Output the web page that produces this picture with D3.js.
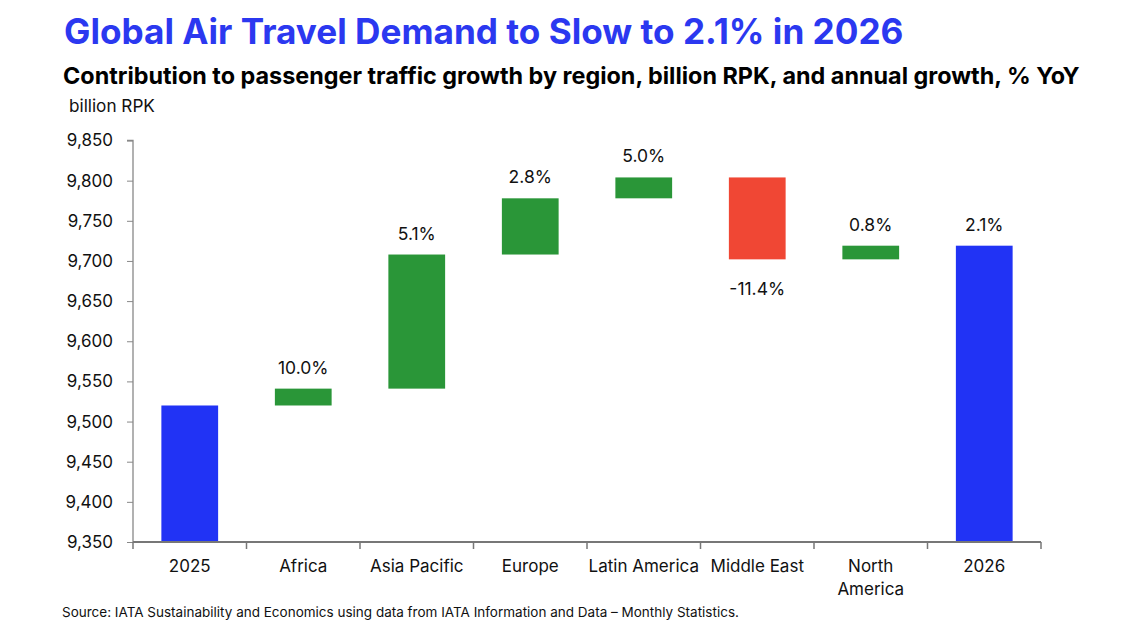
<!DOCTYPE html>
<html><head><meta charset="utf-8">
<script src="https://cdn.jsdelivr.net/npm/d3@7/dist/d3.min.js"></script>
<style>body{margin:0;background:#fff;} text{font-family:Inter, "Noto Sans", sans-serif;}</style>
</head><body>
<svg id="c" width="1135" height="643"></svg>
<script>
const categories = ["2025","Africa","Asia Pacific","Europe","Latin America","Middle East","North America","2026"];
const kinds = ["total","delta","delta","delta","delta","delta","delta","total"];
const values = [9520, 21, 167, 70, 26, -102, 17, 9719];
const labels = ["", "10.0%", "5.1%", "2.8%", "5.0%", "-11.4%", "0.8%", "2.1%"];
const yTicks = [9350,9400,9450,9500,9550,9600,9650,9700,9750,9800,9850];

const svg = d3.select("#c");
const m = {left:133, right:1041, top:140.5, bottom:542};
const x = d3.scaleBand().domain(categories).range([m.left, m.right]).paddingInner(0.5).paddingOuter(0.25);
const y = d3.scaleLinear().domain([9350, 9850]).range([m.bottom, m.top]);
const colTotal = "#2133F5", colUp = "#2A9638", colDown = "#F04734";

let run = 0;
const bars = categories.map((c,i)=>{
  if(kinds[i]==="total"){ run = values[i]; return {c, y0:9350, y1:values[i], col:colTotal, lab:labels[i], neg:false}; }
  const s = run; run += values[i];
  return {c, y0:s, y1:run, col: values[i]>=0?colUp:colDown, lab:labels[i], neg: values[i]<0};
});

svg.selectAll("rect.bar").data(bars).join("rect")
  .attr("x", d=>x(d.c)).attr("width", x.bandwidth())
  .attr("y", d=>y(Math.max(d.y0,d.y1))).attr("height", d=>Math.abs(y(d.y0)-y(d.y1)))
  .attr("fill", d=>d.col);

svg.selectAll("text.val").data(bars.filter(d=>d.lab)).join("text")
  .attr("x", d=>x(d.c)+x.bandwidth()/2)
  .attr("y", d=> d.neg ? y(Math.min(d.y0,d.y1))+36 : y(Math.max(d.y0,d.y1))-15)
  .attr("text-anchor","middle").attr("font-size",17.5).attr("fill","#111")
  .text(d=>d.lab);

const ya = svg.append("g").attr("transform",`translate(${m.left},0)`)
  .call(d3.axisLeft(y).tickValues(yTicks).tickSize(6).tickPadding(14).tickFormat(d3.format(",")));
ya.selectAll("text").attr("font-size",17).attr("fill","#111").style("font-family","Inter, sans-serif");
ya.selectAll("line").attr("stroke","#888");
ya.select(".domain").attr("stroke","#888").attr("stroke-width",1.3).attr("d",`M-6,${m.top}H0V${m.bottom}`);

const xa = svg.append("g").attr("transform",`translate(0,${m.bottom})`);
xa.append("line").attr("x1",m.left).attr("x2",m.right).attr("stroke","#777").attr("stroke-width",2);
const step = x.step();
const bounds = d3.range(categories.length+1).map(i=>m.left + i*step);
xa.selectAll("line.t").data(bounds).join("line").attr("class","t")
  .attr("x1",d=>d).attr("x2",d=>d).attr("y1",0).attr("y2",7).attr("stroke","#777").attr("stroke-width",1.5);
xa.selectAll("text.cat").data(categories).join("text")
  .attr("x", d=>x(d)+x.bandwidth()/2).attr("y",30)
  .attr("text-anchor","middle").attr("font-size",17).attr("fill","#111")
  .each(function(d){
    const t = d3.select(this);
    if(d==="North America"){
      t.append("tspan").attr("x", x(d)+x.bandwidth()/2).attr("dy",0).text("North");
      t.append("tspan").attr("x", x(d)+x.bandwidth()/2).attr("dy",23).text("America");
    } else t.text(d);
  });

function fit(sel, w){ const n = sel.node(); const l = n.getComputedTextLength(); const fs = parseFloat(sel.attr("font-size")); sel.attr("font-size", fs*w/l); }

const title = svg.append("text").attr("x",64).attr("y",44).attr("font-size",33).attr("font-weight",700)
  .attr("fill","#2B38F0").text("Global Air Travel Demand to Slow to 2.1% in 2026");
fit(title, 840);
const sub = svg.append("text").attr("x",63).attr("y",84).attr("font-size",20).attr("font-weight",700)
  .attr("fill","#000").text("Contribution to passenger traffic growth by region, billion RPK, and annual growth, % YoY");
fit(sub, 1017);
const br = svg.append("text").attr("x",69).attr("y",112).attr("font-size",16).attr("fill","#111").text("billion RPK");
fit(br, 86);
const src = svg.append("text").attr("x",62).attr("y",617).attr("font-size",12.5).attr("fill","#111")
  .text("Source: IATA Sustainability and Economics using data from IATA Information and Data – Monthly Statistics.");
fit(src, 677);
</script>
</body></html>
